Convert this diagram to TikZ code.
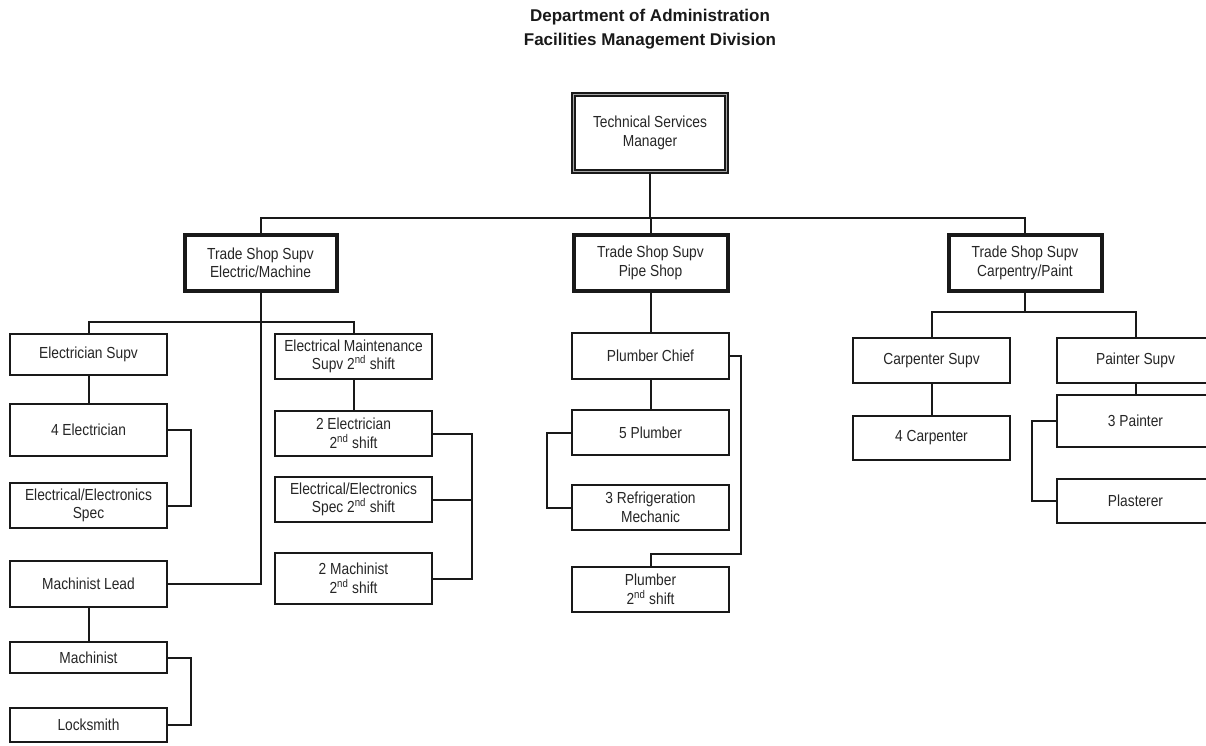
\documentclass[tikz,border=0pt]{standalone}
\usepackage{fontspec}
\setmainfont{Liberation Sans}
\newfontfamily\chartfont[FakeStretch=0.86]{Liberation Sans}
\newfontfamily\headfont{Liberation Sans}
\begin{document}
\begin{tikzpicture}[x=1pt,y=-1pt,
  link/.style={draw=black!90, line width=2pt},
  box/.style={draw=black!90, line width=2pt, fill=white, rectangle, inner sep=0pt,
    minimum width=157pt, align=center, text=black!85,
    font=\chartfont\fontsize{16}{18.5}\selectfont},
  tradebox/.style={box, line width=4pt, minimum height=56pt},
  topbox/.style={box, line width=1.4pt, double=black!35, double distance=1.6pt,
    minimum width=153pt, minimum height=77pt}
]
\useasboundingbox (0,0) rectangle (1206,745);
\fill[white] (0,0) rectangle (1206,745);
\clip (0,0) rectangle (1206,745);

% heading
\node[font=\headfont\bfseries\fontsize{17}{24}\selectfont, align=center, text=black!90]
  (title) at (650,29) {Department of Administration\\Facilities Management Division};

% top level
\node[topbox] (mgr) at (650,133) {Technical Services\\Manager};

% trade shop supervisors
\node[tradebox, minimum width=152pt] (tsEM) at (260.5,263) {Trade Shop Supv\\Electric/Machine};
\node[tradebox, minimum width=154pt] (tsPS) at (650.5,263) {Trade Shop Supv\\Pipe Shop};
\node[tradebox, minimum width=153pt] (tsCP) at (1025,263) {Trade Shop Supv\\Carpentry/Paint};

% electric / machine shop
\node[box, minimum height=41pt] (es)   at (88.5,354.5) {Electrician Supv};
\node[box, minimum height=52pt] (e4)   at (88.5,430)   {4 Electrician};
\node[box, minimum height=45pt] (ees)  at (88.5,505.5) {Electrical/Electronics\\Spec};
\node[box, minimum height=46pt] (ml)   at (88.5,584)   {Machinist Lead};
\node[box, minimum height=31pt] (mach) at (88.5,657.5) {Machinist};
\node[box, minimum height=34pt] (lock) at (88.5,725)   {Locksmith};

\node[box, minimum height=45pt] (em)   at (353.5,356.5) {Electrical Maintenance\\Supv 2\textsuperscript{nd} shift};
\node[box, minimum height=45pt] (e2)   at (353.5,433.5) {2 Electrician\\2\textsuperscript{nd} shift};
\node[box, minimum height=45pt] (ees2) at (353.5,499.5) {Electrical/Electronics\\Spec 2\textsuperscript{nd} shift};
\node[box, minimum height=51pt] (m2)   at (353.5,578.5) {2 Machinist\\2\textsuperscript{nd} shift};

% pipe shop
\node[box, minimum height=46pt] (pc) at (650.5,356)   {Plumber Chief};
\node[box, minimum height=45pt] (p5) at (650.5,432.5) {5 Plumber};
\node[box, minimum height=45pt] (rm) at (650.5,507.5) {3 Refrigeration\\Mechanic};
\node[box, minimum height=45pt] (p2) at (650.5,589.5) {Plumber\\2\textsuperscript{nd} shift};

% carpentry / paint
\node[box, minimum height=45pt] (cs) at (931.5,360.5)  {Carpenter Supv};
\node[box, minimum height=44pt] (c4) at (931.5,438)    {4 Carpenter};
\node[box, minimum height=45pt] (ps) at (1135.5,360.5) {Painter Supv};
\node[box, minimum height=52pt] (p3) at (1135.5,421)   {3 Painter};
\node[box, minimum height=44pt] (pl) at (1135.5,501)   {Plasterer};

% junction points
\coordinate (busA) at (650,218);
\coordinate (busB) at (260.5,322);
\coordinate (busC) at (1025,312);
\coordinate (jog)  at (650.5,554);

% manager to trade shops
\draw[link] (mgr.south) -- (busA);
\draw[link] (tsEM.north) |- (busA) -| (tsCP.north);
\draw[link] (tsPS.north) -- (tsPS.north |- busA);

% electric / machine
\draw[link] (tsEM.south) |- (ml.east);
\draw[link] (es.north) |- (busB) -| (em.north);
\draw[link] (es.south) -- (e4.north);
\draw[link] (e4.east) -- ++(23,0) |- (ees.east);
\draw[link] (ml.south) -- (mach.north);
\draw[link] (mach.east) -- ++(23,0) |- (lock.east);
\draw[link] (em.south) -- (e2.north);
\draw[link] (e2.east) -- ++(39,0) coordinate (k) |- (m2.east);
\draw[link] (ees2.east) -- (ees2.east -| k);

% pipe shop
\draw[link] (tsPS.south) -- (pc.north);
\draw[link] (pc.south) -- (p5.north);
\draw[link] (p5.west) -- ++(-24,0) |- (rm.west);
\draw[link] (pc.east) -- ++(11,0) |- (jog) -- (p2.north);

% carpentry / paint
\draw[link] (tsCP.south) -- (busC);
\draw[link] (cs.north) |- (busC) -| (ps.north);
\draw[link] (cs.south) -- (c4.north);
\draw[link] (ps.south) -- (p3.north);
\draw[link] (p3.west) -- ++(-24,0) |- (pl.west);
\end{tikzpicture}
\end{document}
